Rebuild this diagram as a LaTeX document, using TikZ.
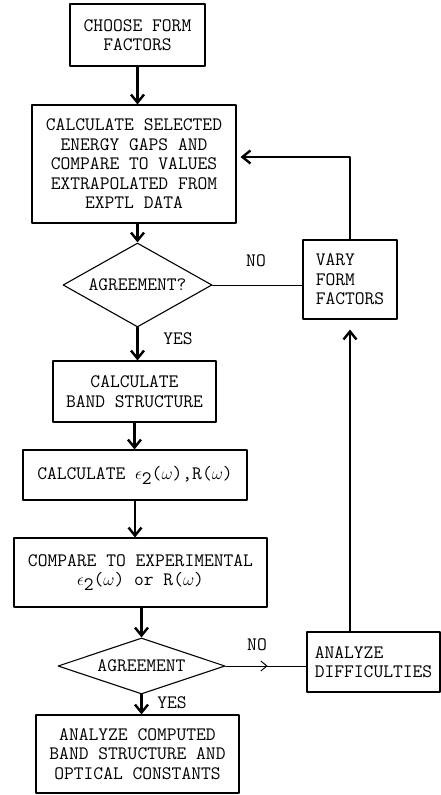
\documentclass[tikz,border=0pt]{standalone}
\usepackage{fontspec}
\usepackage{tikz}
\usetikzlibrary{shapes.geometric}
\usetikzlibrary{arrows.meta}
\usetikzlibrary{decorations.markings}
\tikzstyle{every node}=[font=\ttfamily\fontsize{19}{19.5}\selectfont]
\newcommand{\subtwo}{\raisebox{-5pt}{2}}

\begin{document}
\begin{tikzpicture}[line cap=round,line join=round,>={Straight Barb[length=8pt,width=13pt]},x=1pt,y=-1pt,
  box/.style={draw,line width=1.1pt,align=center,inner sep=0pt},
  decision/.style={diamond,draw,line width=1.1pt,inner sep=1pt,aspect=2.5},
  flow/.style={->,line width=2.4pt},
  link/.style={line width=1pt}]
                \useasboundingbox (0,0) rectangle (441,795);
                % boxes of the main column
                \node[box,minimum width=135,minimum height=62] (choose) at (137.5,35) {CHOOSE FORM\\FACTORS};
                \node[box,minimum width=204,minimum height=118] (calc) at (134,164) {CALCULATE SELECTED\\ENERGY GAPS AND\\COMPARE TO VALUES\\EXTRAPOLATED FROM\\EXPTL DATA};
                \node[decision,minimum width=149,minimum height=84] (agree1) at (137.5,285) {AGREEMENT?};
                \node[box,minimum width=163,minimum height=61] (band) at (134.5,391.5) {CALCULATE\\BAND STRUCTURE};
                \node[box,minimum width=224,minimum height=50] (eps) at (135,475) {CALCULATE $\epsilon$\subtwo($\omega$),R($\omega$)};
                \node[box,minimum width=253,minimum height=69] (comp) at (140.5,572.5) {COMPARE TO EXPERIMENTAL\\$\epsilon$\subtwo($\omega$) or R($\omega$)};
                \node[decision,minimum width=167,minimum height=56] (agree2) at (141.5,666) {AGREEMENT};
                \node[box,minimum width=203,minimum height=78] (result) at (137.5,754) {ANALYZE COMPUTED\\BAND STRUCTURE AND\\OPTICAL CONSTANTS};
                % boxes of the loop
                \node[box,minimum width=94,minimum height=79,align=left] (vary) at (350,279.5) {VARY\\FORM\\FACTORS};
                \node[box,minimum width=133,minimum height=60,align=left] (diff) at (373.5,662) {ANALYZE\\DIFFICULTIES};
                % answers
                \node (no1) at (256,261) {NO};
                \node (yes1) at (178,339) {YES};
                \node (no2) at (257,645) {NO};
                \node (yes2) at (172,703) {YES};
                % arrows
                \draw[flow] (choose.south) -- (choose.south |- calc.north);
                \draw[flow] (calc.south -| agree1.north) -- (agree1.north);
                \draw[flow] (agree1.south) -- (agree1.south |- band.north);
                \draw[flow] (band.south) -- (band.south |- eps.north);
                \draw[flow] (eps.south) -- (eps.south |- comp.north);
                \draw[flow] (comp.south -| agree2.north) -- (agree2.north);
                \draw[flow] (agree2.south) -- (agree2.south |- result.north);
                \draw[link] (agree1.east) -- (agree1.east -| vary.west);
                \draw[link,postaction={decorate},decoration={markings,mark=at position 0.52 with {\arrow{Straight Barb[length=6pt,width=10pt]}}}] (agree2.east) -- (agree2.east -| diff.west);
                \draw[flow,shorten >=10pt] (diff.north -| vary.south) -- (vary.south);
                \draw[flow,shorten >=4pt] (vary.north) |- ([yshift=7pt]calc.east);
\end{tikzpicture}
\end{document}
